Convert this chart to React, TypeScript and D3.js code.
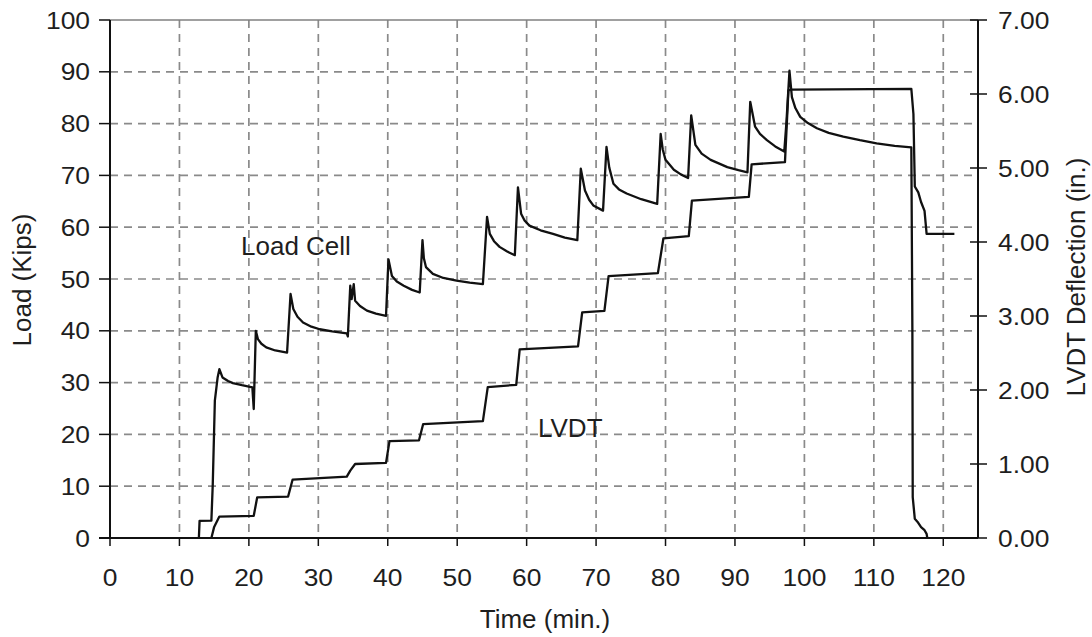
import React from "react";
import * as d3 from "d3";

// ---- data ----
const loadTime = [
  12.8, 12.9, 14.6, 14.8, 15.1, 15.5, 15.75, 16.2, 17.0, 17.7, 19.0, 20.5, 20.6, 20.7, 20.8, 21.0, 21.3, 21.8, 22.5, 23.8, 25.5,
  26.0, 26.4, 27.0, 27.8, 29.0, 30.2, 32.0, 34.1, 34.25, 34.6, 34.8, 35.1, 35.3, 36.0, 37.0, 38.3, 39.75,
  40.1, 40.6, 41.3, 42.3, 43.5, 44.6, 45.0, 45.2, 45.5, 46.5, 48.0, 49.9, 51.8, 53.7,
  54.3, 54.7, 55.3, 56.1, 57.2, 58.3, 58.75, 59.2, 59.7, 60.4, 62.0, 63.8, 65.5, 67.3,
  67.8, 68.4, 69.0, 69.6, 71.0, 71.5, 71.9, 72.5, 73.3, 74.4, 76.5, 78.8,
  79.3, 79.6, 80.0, 81.2, 82.2, 83.25, 83.7, 84.3, 85.2, 86.5, 88.9, 90.5, 91.8,
  92.2, 92.9, 93.6, 94.6, 95.8, 97.1, 97.4, 97.85, 98.2, 98.7, 99.4, 100.5, 101.8, 103.5, 105.6, 108.0, 110.4, 113.0, 115.4,
  115.55, 115.6, 115.9, 116.3, 116.8, 117.3, 117.6, 117.7,
];
const loadValue = [
  0, 3.3, 3.35, 10.4, 26.5, 31, 32.6, 31, 30.3, 29.9, 29.5, 29.1, 27, 24.9, 30, 40, 38.4, 37.5, 36.8, 36.2, 35.8,
  47.1, 44.2, 42.7, 41.6, 40.8, 40.3, 39.9, 39.5, 38.9, 48.7, 46.1, 49, 45.8, 44.8, 43.9, 43.3, 42.9,
  53.8, 50.6, 49.5, 48.7, 47.9, 47.4, 57.5, 54, 52.3, 51.0, 50.2, 49.7, 49.3, 49.0,
  62.0, 58.7, 57.3, 56.2, 55.3, 54.6, 67.7, 62.6, 61.3, 60.3, 59.4, 58.7, 58.0, 57.5,
  71.3, 67.1, 65.3, 64.2, 63.2, 75.5, 71.5, 68.4, 67.3, 66.5, 65.4, 64.5,
  78, 75, 73, 71.1, 70.2, 69.5, 81.6, 75.9, 74.2, 73, 71.6, 71.0, 70.6,
  84.2, 79.4, 78.0, 76.8, 75.6, 74.6, 80, 90.2, 85.1, 83.0, 81.3, 80.1, 79.1, 78.2, 77.5, 76.8, 76.2, 75.7, 75.4,
  40, 7.9, 3.7, 3.1, 2.1, 1.5, 0.8, 0,
];

const lvdtTime = [
  14.6, 15.0, 15.75, 20.7, 21.2, 25.65, 26.3, 34.1, 34.6, 35.3, 39.75, 40.25, 44.5, 45.1, 53.7,
  54.4, 58.5, 59.0, 67.4, 68.0, 71.2, 71.8, 78.9, 79.7, 83.35, 83.8, 92.0, 92.4, 97.2, 97.7, 98.2, 115.4,
  115.7, 115.9, 116.4, 116.8, 117.3, 117.6, 121.6,
];
const lvdtValue = [
  0, 0.15, 0.29, 0.3, 0.55, 0.56, 0.79, 0.83, 0.91, 1.0, 1.015, 1.31, 1.32, 1.54, 1.58,
  2.04, 2.07, 2.55, 2.59, 3.05, 3.07, 3.54, 3.58, 4.05, 4.08, 4.56, 4.61, 5.05, 5.08, 6.05, 6.06, 6.07,
  5.73, 4.75, 4.67, 4.54, 4.42, 4.11, 4.11,
];

const timeTicks = [0, 10, 20, 30, 40, 50, 60, 70, 80, 90, 100, 110, 120];
const loadTicks = [0, 10, 20, 30, 40, 50, 60, 70, 80, 90, 100];
const lvdtTicks = [0, 1, 2, 3, 4, 5, 6, 7];

const FONT = "'Liberation Sans', Arial, Helvetica, sans-serif";

export default function App() {
  const W = 1092;
  const H = 637;
  const left = 110;
  const right = 978;
  const top = 20;
  const bottom = 538;

  const x = d3.scaleLinear().domain([0, 125]).range([left, right]);
  const yL = d3.scaleLinear().domain([0, 100]).range([bottom, top]);
  const yR = d3.scaleLinear().domain([0, 7]).range([bottom, top]);

  const loadPts: [number, number][] = loadTime.map((t, i) => [x(t), yL(loadValue[i])]);
  const lvdtPts: [number, number][] = lvdtTime.map((t, i) => [x(t), yR(lvdtValue[i])]);
  const line = d3.line<[number, number]>().x((d) => d[0]).y((d) => d[1]);

  const gridColor = "#8a8a8a";
  const textColor = "#1e1e1e";

  return (
    <svg
      width={W}
      height={H}
      style={{ position: "absolute", left: 0, top: 0, background: "#fff" }}
      fontFamily={FONT}
    >
      <rect x={0} y={0} width={W} height={H} fill="#fff" />
      {/* grid */}
      {loadTicks
        .filter((v) => v > 0 && v < 100)
        .map((v) => (
          <line key={"h" + v} x1={left} x2={right} y1={yL(v)} y2={yL(v)} stroke={gridColor} strokeWidth={1.7} strokeDasharray="8,6" />
        ))}
      {timeTicks
        .filter((v) => v > 0)
        .map((v) => (
          <line key={"v" + v} x1={x(v)} x2={x(v)} y1={top} y2={bottom} stroke={gridColor} strokeWidth={1.7} strokeDasharray="8,6" />
        ))}
      {/* top border */}
      <line x1={left} x2={right} y1={top} y2={top} stroke="#808080" strokeWidth={1.5} />

      {/* series */}
      <path d={line(lvdtPts) || ""} fill="none" stroke="#111" strokeWidth={2.3} strokeLinejoin="round" />
      <path d={line(loadPts) || ""} fill="none" stroke="#111" strokeWidth={2.3} strokeLinejoin="round" />

      {/* axes */}
      <line x1={left} x2={left} y1={top} y2={bottom} stroke="#111" strokeWidth={2} />
      <line x1={right} x2={right} y1={top} y2={bottom} stroke="#111" strokeWidth={2} />
      <line x1={left - 11} x2={right} y1={bottom} y2={bottom} stroke="#111" strokeWidth={2} />

      {loadTicks.map((v) => (
        <g key={"lt" + v}>
          <line x1={left - 11} x2={left} y1={yL(v)} y2={yL(v)} stroke="#111" strokeWidth={1.5} />
          <text
            transform={`translate(${left - 20},${yL(v)}) scale(1.1,1)`}
            textAnchor="end"
            dominantBaseline="central"
            fontSize={24}
            fill={textColor}
          >
            {v}
          </text>
        </g>
      ))}
      {lvdtTicks.map((v) => (
        <g key={"rt" + v}>
          <line x1={right - 8} x2={right + 9} y1={yR(v)} y2={yR(v)} stroke="#111" strokeWidth={1.5} />
          <text
            transform={`translate(${right + 20},${yR(v)}) scale(1.1,1)`}
            textAnchor="start"
            dominantBaseline="central"
            fontSize={24}
            fill={textColor}
          >
            {v.toFixed(2)}
          </text>
        </g>
      ))}
      {timeTicks.map((v) => (
        <g key={"bt" + v}>
          <line x1={x(v)} x2={x(v)} y1={bottom} y2={bottom + 8} stroke="#111" strokeWidth={1.5} />
          <text
            transform={`translate(${x(v)},${577}) scale(1.1,1)`}
            textAnchor="middle"
            dominantBaseline="central"
            fontSize={24}
            fill={textColor}
          >
            {v}
          </text>
        </g>
      ))}

      {/* axis titles */}
      <text x={545} y={628} textAnchor="middle" fontSize={26} fill={textColor}>
        Time (min.)
      </text>
      <text
        transform={`translate(22,280) rotate(-90)`}
        textAnchor="middle"
        dominantBaseline="central"
        fontSize={26}
        fill={textColor}
      >
        Load (Kips)
      </text>
      <text
        transform={`translate(1076,277) rotate(-90)`}
        textAnchor="middle"
        dominantBaseline="central"
        fontSize={26}
        fill={textColor}
      >
        LVDT Deflection (in.)
      </text>

      {/* series labels */}
      <text x={241} y={255} fontSize={26} fill={textColor}>
        Load Cell
      </text>
      <text x={538} y={437} fontSize={26} fill={textColor}>
        LVDT
      </text>
    </svg>
  );
}
